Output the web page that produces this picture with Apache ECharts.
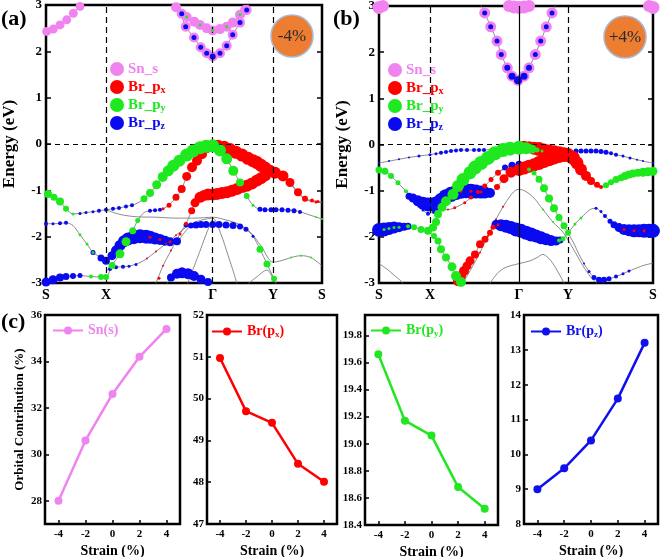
<!DOCTYPE html>
<html><head><meta charset="utf-8">
<script src="https://cdn.jsdelivr.net/npm/echarts@6/dist/echarts.min.js"></script>
<style>html,body{margin:0;padding:0;background:#fff}#c{width:660px;height:557px}</style>
</head><body><div id="c"></div>
<script>
// ---------- k-path (arb. units) and labels ----------
const kTicksA = [0, 60, 166.7, 227, 276];
const kTicksB = [0, 51, 140, 189, 274];
const kLabels = ['S', 'X', 'Γ', 'Y', 'S'];

// ---------- panel (a) bands, -4% : [k, E(eV)] ----------
const bandA1 = [[0,-1.08],[7,-1.15],[14,-1.24],[20,-1.40],[27,-1.51],[40,-1.48],[50,-1.45],[60,-1.42],[70,-1.39],[80,-1.35],[86,-1.32],[92,-1.27],[98,-1.18],[104,-1.06],[110.7,-0.88],[116.7,-0.71],[122.3,-0.58],[127.3,-0.47],[133.3,-0.36],[140.7,-0.24],[147,-0.15],[154,-0.08],[160,-0.05],[166.7,-0.04],[174,-0.05],[184,-0.12],[194,-0.22],[202,-0.31],[211,-0.40],[219,-0.52],[227,-0.60],[237,-0.69],[244,-0.83],[252,-1.04],[259,-1.18],[266,-1.22],[276,-1.25]];
const bandA2 = [[0,-1.72],[10,-1.72],[20,-1.70],[27,-1.76],[34,-1.96],[41,-2.16],[47,-2.34],[55,-2.45],[60,-2.52],[66,-2.41],[74,-2.19],[82,-2.05],[94,-1.99],[104,-2.01],[114,-2.06],[124,-2.11],[131,-2.10],[137,-1.95],[143,-1.80],[150,-1.75],[166.7,-1.74],[180,-1.75],[194,-1.78],[200,-1.84],[207,-1.99],[214,-2.27],[221,-2.59],[228,-2.91],[232,-3.10]];
const bandA3 = [[0,-2.98],[7,-2.93],[14,-2.88],[20,-2.86],[34,-2.84],[45,-2.86],[55,-2.87],[60,-2.87],[66,-2.62],[74,-2.37],[80,-2.11],[86.7,-1.87],[91.7,-1.65],[98,-1.48],[104,-1.44],[114,-1.42],[117,-1.40],[123,-1.32],[130,-1.15],[135.7,-0.97],[140.7,-0.70],[146,-0.50],[151,-0.36],[156,-0.22],[161,-0.10],[166.7,-0.04],[174,-0.14],[180.7,-0.32],[187.3,-0.58],[194,-0.83],[200.7,-1.12],[207,-1.32],[214,-1.41],[225,-1.42],[240,-1.42],[252,-1.45],[262,-1.52],[276,-1.62]];
const bandA4 = [[106,-3.2],[110,-3.0],[117,-2.63],[125,-2.30],[134,-1.94],[140,-1.72],[145.7,-1.44],[149,-1.27],[154,-1.15],[162,-1.09],[166.7,-1.09],[171,-1.08],[181,-1.04],[191,-0.97],[201,-0.90],[211,-0.79],[219,-0.68],[227,-0.62],[237,-0.71],[244,-0.85],[252,-1.06],[259,-1.20],[266,-1.24],[276,-1.27]];
const bandA5 = [[60,-2.74],[67,-2.66],[77,-2.65],[86,-2.62],[94,-2.56],[101,-2.47],[110,-2.32],[120,-2.15],[130,-1.97],[140,-1.80],[150,-1.68],[160,-1.62],[166.7,-1.60],[175,-1.95],[182,-2.40],[188,-2.80],[192,-3.10]];
const bandA6 = [[140,-3.1],[148,-2.65],[155,-2.25],[161,-1.90],[166.7,-1.62]];
const bandA7 = [[200,-3.05],[210,-2.88],[221,-2.72],[228,-2.95],[232,-3.10]];
const bandA8 = [[120,-3.05],[125,-2.88],[131,-2.80],[136,-2.78],[142,-2.80],[148,-2.85],[155,-2.92],[162,-2.98],[170,-3.05]];
const bandA9 = [[60,-1.42],[74,-1.52],[90,-1.57],[110,-1.58],[130,-1.60],[150,-1.60],[166.7,-1.58],[180,-1.64],[194,-1.74],[205,-1.92],[215,-2.20],[227,-2.55],[235,-2.52],[245,-2.45],[255,-2.41],[265,-2.45],[276,-2.63]];
const cbA1 = [[133,3.1],[135.7,2.81],[139.7,2.53],[148,2.30],[154.7,2.09],[160.7,1.96],[166.7,1.89],[174,1.96],[180.7,2.12],[186.7,2.36],[194,2.62],[200.7,2.89],[203,3.1]];
const cbA2 = [[127,3.1],[130,2.95],[140.7,2.74],[148.3,2.64],[154,2.57],[160.7,2.50],[166.7,2.45],[174,2.48],[180.7,2.53],[186.7,2.62],[194,2.79],[199,2.89],[202,3.1]];
const cbA3 = [[0,2.43],[7.3,2.48],[14,2.57],[20.7,2.68],[27.3,2.82],[34,2.97],[37,3.1]];

// ---------- panel (a) orbital weights : [k, E, marker size] ----------
const fatA_sn = [[135.7,2.81,10],[139.7,2.53,10],[148,2.30,10],[154.7,2.09,10],[160.7,1.96,10],[166.7,1.89,10],[174,1.96,10],[180.7,2.12,10],[186.7,2.36,10],[194,2.62,10],[200.7,2.89,10],
 [130,2.95,10],[140.7,2.74,10],[148.3,2.64,10],[154,2.57,10],[160.7,2.50,10],[166.7,2.45,10],[174,2.48,10],[180.7,2.53,10],[186.7,2.62,10],[194,2.79,10],[199,2.89,10],
 [0.7,2.43,9],[7.3,2.48,9],[14,2.57,9],[20.7,2.68,9],[27.3,2.82,9],[34,2.97,9]];
const fatA_px = [[172,-0.04,12],[178,-0.07,13],[184,-0.12,13],[190,-0.18,13],[196,-0.24,13],[202,-0.31,13],[207,-0.36,13],[211,-0.40,13],[215,-0.46,13],[219,-0.52,13],[224,-0.58,12],[229,-0.62,12],[237,-0.69,11],[244,-0.83,9],[252,-1.04,8],[259,-1.18,6],[266,-1.22,4],[272,-1.24,3],
 [154,-1.15,11],[158,-1.11,11],[162,-1.09,12],[166.7,-1.09,12],[171,-1.08,12],[176,-1.06,12],[181,-1.04,12],[186,-1.01,12],[191,-0.97,12],[196,-0.93,12],[201,-0.90,12],[206,-0.85,12],[211,-0.79,12],[215,-0.74,12],[219,-0.68,12],
 [149,-1.27,9],[145.7,-1.44,7],[140,-1.72,4],[134,-1.94,3],[125,-2.30,2],[117,-2.63,2],[113,-2.90,3],
 [161,-0.10,9],[156,-0.22,10],[151,-0.36,10],[146,-0.50,10],[140.7,-0.70,9],[135.7,-0.97,8],[130,-1.15,7],[123,-1.32,5],[117,-1.40,3],
 [101,-2.47,2],[110,-2.32,2],[120,-2.15,2],[130,-1.97,2],[104,-2.01,3],[114,-2.06,3],[124,-2.11,3],[270,-1.25,3]];
const fatA_py = [[2,-1.08,8],[8,-1.15,7],[14,-1.24,8],[20,-1.40,6],[27,-1.51,3],
 [34,-1.96,3],[41,-2.16,3],[47,-2.34,3],[45,-2.86,4],[55,-2.87,6],[60,-2.87,6],
 [66,-2.62,7],[74,-2.37,9],[80,-2.11,9],[86.7,-1.87,7],[91.7,-1.65,5],
 [98,-1.18,7],[104,-1.06,8],[110.7,-0.88,9],[116.7,-0.71,10],[122.3,-0.58,11],[127.3,-0.47,12],[133.3,-0.36,12],[140.7,-0.24,13],[147,-0.15,13],[154,-0.08,13],[160,-0.05,13],[166.7,-0.04,13],
 [174,-0.14,12],[180.7,-0.32,11],[187.3,-0.58,10],[194,-0.83,8],[200.7,-1.12,6],[207,-1.32,3],
 [214,-2.27,7],[221,-2.59,7],[228,-2.91,6],[245,-2.45,2],[255,-2.41,2],[265,-2.45,2],[270,-1.58,2],[276,-1.62,2],
 [140.7,2.74,3],[154,2.57,3],[166.7,2.45,3],[180.7,2.53,3],[194,2.79,3]];
const fatA_pz = [[0,-1.72,4],[7,-1.72,3],[14,-1.71,4],[20,-1.70,4],[47,-2.34,5],[55,-2.46,7],[60,-2.52,8],[66,-2.41,9],[70,-2.30,10],[74,-2.19,11],[78,-2.10,12],[82,-2.05,13],[88,-2.01,14],[94,-1.99,14],[100,-2.00,14],[104,-2.01,13],[109,-2.04,12],[114,-2.06,11],[119,-2.09,10],[124,-2.11,9],[131,-2.10,8],
 [140,-1.75,5],[145,-1.76,6],[150,-1.75,7],[155,-1.74,7],[160,-1.74,7],[166.7,-1.74,7],[173,-1.74,7],[180,-1.75,7],[187,-1.76,7],[194,-1.78,6],[200,-1.84,5],[207,-1.99,3],
 [34,-1.50,3],[40,-1.48,3],[47,-1.46,3],[53,-1.44,4],[60,-1.42,4],[67,-1.40,4],[73,-1.38,4],[80,-1.35,4],[86,-1.32,4],
 [214,-1.41,5],[219,-1.42,5],[225,-1.42,5],[230,-1.42,5],[236,-1.42,5],[242,-1.43,5],[248,-1.44,5],[254,-1.47,4],
 [104,-1.44,4],[109,-1.43,4],[114,-1.42,4],
 [0,-2.98,9],[7,-2.93,9],[14,-2.88,8],[20,-2.86,7],[27,-2.85,6],[34,-2.84,5],
 [125,-2.88,8],[131,-2.80,10],[136,-2.78,11],[142,-2.80,11],[148,-2.85,10],[155,-2.92,9],[162,-2.98,8],
 [64,-2.70,4],[70,-2.66,4],[77,-2.65,4],[83,-2.64,3],[90,-2.60,3],
 [135.7,2.81,5],[139.7,2.53,5],[148,2.30,5],[154.7,2.09,5],[160.7,1.96,5],[166.7,1.89,6],[174,1.96,5],[180.7,2.12,5],[186.7,2.36,5],[194,2.62,5],[200.7,2.89,5]];

// ---------- panel (b) bands, +4% ----------
const bandB1 = [[0,-0.40],[10,-0.36],[20,-0.32],[30,-0.28],[40,-0.25],[51,-0.22],[62,-0.18],[72,-0.14],[82,-0.12],[95,-0.12],[105,-0.12],[115,-0.10],[124,-0.08],[131,-0.06],[140,-0.04],[147,-0.05],[157,-0.09],[167,-0.14],[177,-0.18],[185,-0.21],[189,-0.23],[194,-0.29],[198,-0.40],[202,-0.54],[207,-0.68],[212,-0.79],[218,-0.87],[222,-0.92],[227,-0.88],[237,-0.76],[246,-0.68],[254,-0.63],[264,-0.60],[274,-0.58]];
const bandB2 = [[119,-0.61],[126,-0.52],[133,-0.46],[140,-0.45],[145,-0.48],[150,-0.54],[155,-0.62],[160,-0.75],[165,-0.95],[170,-1.17],[175,-1.38],[180,-1.58],[185,-1.76],[189,-1.91],[195,-2.15],[200,-2.38],[205,-2.58],[210,-2.75],[215,-2.88],[220,-2.93],[228,-2.92],[237,-2.86],[247,-2.77],[257,-2.68],[266,-2.61],[274,-2.57]];
const bandB3 = [[0,-0.55],[6,-0.58],[12,-0.68],[19,-0.83],[27,-1.01],[34,-1.15],[42,-1.24],[51,-1.30],[56,-1.30],[62,-1.20],[72,-1.08],[82,-1.01],[92,-1.01],[102,-1.03],[111,-1.05],[118,-0.92],[125,-0.74],[132,-0.60],[140,-0.55],[150,-0.47],[160,-0.40],[170,-0.32],[180,-0.25],[189,-0.22],[194,-0.30],[202,-0.56],[212,-0.81],[222,-0.93],[237,-0.77],[254,-0.64],[274,-0.59]];
const bandB4 = [[38,-1.22],[44,-1.42],[49,-1.50],[55,-1.46],[62,-1.41],[69,-1.41],[75.7,-1.37],[85.7,-1.26],[92,-1.15],[99,-1.03],[105.7,-0.90],[112,-0.76],[119,-0.61],[126,-0.50],[133,-0.45],[140,-0.43],[150,-0.39],[160,-0.33],[170,-0.27],[180,-0.21],[189,-0.17],[197,-0.14],[207,-0.14],[217,-0.14],[227,-0.17],[237,-0.22],[251,-0.29],[264,-0.36],[274,-0.40]];
const bandB5 = [[0,-1.85],[10,-1.82],[20,-1.79],[29,-1.77],[35,-1.79],[42,-1.84],[49,-1.87],[54,-1.80],[57,-1.68],[59,-1.51],[63,-1.36],[67,-1.23],[74,-1.08],[79,-0.90],[84,-0.76],[91,-0.61],[96,-0.50],[102,-0.40],[109,-0.29],[116,-0.19],[124,-0.12],[131,-0.09],[140,-0.07],[150,-0.10],[160,-0.14],[170,-0.16],[180,-0.17],[189,-0.17]];
const bandB6 = [[49,-1.88],[55,-1.98],[59,-2.09],[62,-2.27],[67,-2.45],[73,-2.65],[77,-2.85],[82,-2.98],[86,-3.10]];
const bandB7 = [[76,-3.1],[79,-2.96],[85,-2.74],[91,-2.52],[96,-2.38],[101,-2.16],[106,-2.05],[111,-1.91],[114,-1.79],[119,-1.74],[127,-1.77],[137,-1.84],[147,-1.91],[157,-1.98],[167,-2.05],[177,-2.09],[184,-2.04],[189,-1.92],[196,-1.72],[202,-1.59],[211,-1.41],[217,-1.38],[224,-1.51],[231,-1.66],[237,-1.77],[246,-1.84],[254,-1.87],[264,-1.87],[274,-1.87]];
const bandB8 = [[84,-3.0],[92,-2.70],[101,-2.34],[109,-1.98],[117,-1.62],[124,-1.35],[131,-1.12],[136,-1.00],[140,-0.97],[147,-1.02],[155,-1.16],[164,-1.41],[174,-1.68],[184,-1.90],[194,-2.25],[204,-2.63],[212,-2.88],[217,-2.99],[220,-3.1]];
const bandB9 = [[0,-2.58],[8,-2.70],[15,-2.83],[22,-2.96],[26,-3.10]];
const bandB10 = [[108,-3.1],[118,-2.80],[125,-2.68],[131,-2.63],[140,-2.58],[151,-2.52],[158,-2.45],[164,-2.38],[169,-2.45],[174,-2.58],[180,-2.80],[185,-3.0],[187,-3.1]];
const cbB1 = [[100,3.1],[105.7,2.85],[111.7,2.55],[118,2.24],[122.3,1.95],[128.3,1.66],[133,1.48],[139,1.39],[145,1.48],[150,1.66],[156.3,1.95],[161.7,2.24],[167.3,2.55],[173,2.85],[178,3.1]];
const cbB2 = [[115,3.1],[128,3.0],[140,2.97],[152,3.0],[165,3.1]];
const cbB3 = [[0,2.96],[8,3.1]];
const cbB4 = [[266,3.1],[274,2.96]];

// ---------- panel (b) orbital weights ----------
const fatB_sn = [[105.7,2.85,11],[111.7,2.55,11],[118,2.24,11],[122.3,1.95,11],[128.3,1.66,11],[133,1.48,11],[139,1.39,11],[145,1.48,11],[150,1.66,11],[156.3,1.95,11],[161.7,2.24,11],[167.3,2.55,11],[173,2.85,11],
 [0,2.97,13],[4,3.0,12],[130,3.0,12],[135,2.98,13],[140,2.97,13],[145,2.98,13],[150,3.0,12],[270,3.0,12],[274,2.97,13]];
const fatB_px = [[140,-0.03,9],[145,-0.04,11],[150,-0.06,12],[155,-0.08,13],[160,-0.10,14],[165,-0.13,14],[170,-0.15,14],[175,-0.17,14],[180,-0.19,14],[185,-0.21,14],[189,-0.23,14],[194,-0.29,14],[198,-0.40,13],[202,-0.54,12],[207,-0.68,10],[212,-0.79,8],[218,-0.87,6],[222,-0.92,4],
 [118,-0.92,6],[125,-0.74,9],[132,-0.60,11],[140,-0.55,12],[145,-0.51,13],[150,-0.47,13],[155,-0.44,13],[160,-0.40,14],[165,-0.36,14],[170,-0.32,14],[175,-0.28,14],[180,-0.25,14],[185,-0.23,14],
 [62,-1.41,2],[69,-1.41,2],[75.7,-1.37,3],[85.7,-1.26,3],[92,-1.15,4],[99,-1.03,4],[105.7,-0.90,5],[112,-0.76,5],[119,-0.61,6],
 [79,-2.96,10],[82,-2.85,10],[85,-2.74,10],[88,-2.63,9],[91,-2.52,9],[96,-2.38,8],[101,-2.16,8],[106,-2.05,7],[111,-1.91,6],[114,-1.79,5],[119,-1.74,3],
 [101,-2.34,2],[109,-1.98,2],[117,-1.62,2],[124,-1.35,2],
 [245,-1.84,3],[255,-1.87,3],[265,-1.87,3],[82,-1.01,3],[92,-1.01,3],[102,-1.03,3]];
const fatB_py = [[0,-0.55,7],[6,-0.58,7],[12,-0.68,6],[19,-0.83,5],[27,-1.01,4],
 [29,-1.77,4],[35,-1.79,6],[42,-1.84,7],[49,-1.87,8],[54,-1.80,8],[57,-1.68,8],[59,-1.51,8],[63,-1.36,9],[67,-1.23,10],[74,-1.08,11],[79,-0.90,12],[84,-0.76,13],[91,-0.61,13],[96,-0.50,14],[102,-0.40,14],[109,-0.29,14],[116,-0.19,14],[124,-0.12,14],[131,-0.09,14],[140,-0.07,14],[147,-0.08,12],[153,-0.10,9],[158,-0.12,5],[163,-0.14,3],
 [150,-0.54,4],[155,-0.62,5],[160,-0.75,7],[165,-0.95,8],[170,-1.17,8],[175,-1.38,8],[180,-1.58,7],[185,-1.76,7],[189,-1.91,6],
 [55,-1.98,6],[59,-2.09,7],[62,-2.27,8],[67,-2.45,8],[73,-2.65,9],[77,-2.85,10],[82,-2.98,10],
 [227,-0.88,6],[232,-0.82,6],[237,-0.76,7],[242,-0.72,7],[246,-0.68,8],[250,-0.65,8],[254,-0.63,8],[259,-0.61,8],[264,-0.60,9],[269,-0.59,9],[274,-0.58,9],
 [202,-1.59,3],[196,-1.72,3],[184,-2.04,5],[180,-2.08,4],[5,-1.84,3],[10,-1.82,3],[15,-1.80,3],[20,-1.79,3],[174,-1.68,2],[164,-1.41,2]];
const fatB_pz = [[0,-0.40,2],[10,-0.36,2],[20,-0.32,2],[30,-0.28,2],[40,-0.25,3],[51,-0.22,3],[57,-0.20,3],[62,-0.18,4],[67,-0.16,4],[72,-0.14,4],[77,-0.13,4],[82,-0.12,4],[88,-0.12,4],[95,-0.12,4],[100,-0.12,4],[105,-0.12,4],
 [126,-0.50,6],[133,-0.45,7],[140,-0.43,7],[146,-0.41,4],[152,-0.38,3],[189,-0.17,5],[197,-0.14,5],[202,-0.14,5],[207,-0.14,5],[212,-0.14,5],[217,-0.14,5],[222,-0.15,5],[227,-0.17,5],[232,-0.19,4],[237,-0.22,4],[244,-0.25,3],[251,-0.29,3],[258,-0.33,2],[264,-0.36,2],[274,-0.40,2],[44,-1.42,3],[49,-1.50,4],[55,-1.46,4],
 [30,-1.12,7],[34,-1.16,9],[39,-1.22,11],[44,-1.27,13],[49,-1.30,14],[53,-1.30,14],[57,-1.28,14],[62,-1.20,14],[67,-1.13,15],[72,-1.08,15],[77,-1.04,15],[82,-1.01,15],[87,-1.00,15],[92,-1.01,15],[97,-1.02,14],[102,-1.03,13],[106,-1.04,12],[111,-1.05,10],
 [0,-1.85,14],[5,-1.84,14],[10,-1.82,13],[15,-1.80,12],[20,-1.79,10],[25,-1.78,8],[29,-1.77,7],
 [117,-1.73,9],[122,-1.75,12],[127,-1.77,13],[132,-1.80,13],[137,-1.84,14],[142,-1.87,14],[147,-1.91,14],[152,-1.95,14],[157,-1.98,13],[162,-2.02,13],[167,-2.05,12],[172,-2.08,11],[177,-2.09,9],[181,-2.07,7],
 [217,-1.38,3],[222,-1.45,3],[226,-1.55,4],[231,-1.66,5],[235,-1.74,7],[240,-1.80,9],[245,-1.84,11],[250,-1.86,12],[255,-1.87,13],[260,-1.87,13],[265,-1.87,14],[270,-1.87,14],[274,-1.87,14],
 [205,-2.58,2],[210,-2.75,3],[215,-2.88,5],[220,-2.93,6],[225,-2.93,6],[230,-2.91,5],[237,-2.86,4],[244,-2.80,3],[250,-2.74,3],
 [105.7,2.85,5],[111.7,2.55,5],[118,2.24,5],[122.3,1.95,5],[128.3,1.66,6],[133,1.48,7],[139,1.39,8],[145,1.48,7],[150,1.66,6],[156.3,1.95,5],[161.7,2.24,5],[167.3,2.55,5],[173,2.85,5]];

// ---------- panel (c) orbital contributions ----------
const strain = [-4, -2, 0, 2, 4];
const snS  = [28.0, 30.6, 32.6, 34.2, 35.4];
const brPx = [50.97, 49.70, 49.42, 48.44, 48.01];
const brPy = [19.66, 19.17, 19.06, 18.68, 18.52];
const brPz = [9.0, 9.6, 10.4, 11.6, 13.2];
const strainTicks = [-4, -2, 0, 2, 4];
const snTicks = [28, 30, 32, 34, 36];
const pxTicks = [47, 48, 49, 50, 51, 52];
const pyTicks = [18.4, 18.6, 18.8, 19.0, 19.2, 19.4, 19.6, 19.8];
const pzTicks = [8, 9, 10, 11, 12, 13, 14];

// ---------- style ----------
const FONT = 'Liberation Serif';
const C_SN = '#F083F0', C_PX = '#FF0000', C_PY = '#1EE81E', C_PZ = '#0A0AF0';
const BAND_COLOR = '#6e6e6e';

function nearestLabel(ticks) {
  return function (v) {
    let b = 0;
    for (let i = 0; i < ticks.length; i++) if (Math.abs(ticks[i] - v) < Math.abs(ticks[b] - v)) b = i;
    return kLabels[b];
  };
}
const gridBase = {show: true, borderColor: '#000', borderWidth: 2.5, backgroundColor: 'transparent', containLabel: false, outerBoundsMode: 'none'};
const grids = [
  Object.assign({left: 46, top: 5, width: 276, height: 278}, gridBase),
  Object.assign({left: 379, top: 6, width: 274, height: 277}, gridBase),
  Object.assign({left: 45, top: 315, width: 135, height: 209}, gridBase),
  Object.assign({left: 207, top: 315, width: 130, height: 209}, gridBase),
  Object.assign({left: 365, top: 315, width: 133, height: 210}, gridBase),
  Object.assign({left: 524, top: 315, width: 134, height: 209}, gridBase)
];
const lblTop = {color: '#000', fontFamily: FONT, fontWeight: 'bold', fontSize: 13};
const lblBot = {color: '#000', fontFamily: FONT, fontWeight: 'bold', fontSize: 11};
const noLine = {show: false, onZero: false};

function kAxis(gi, ticks) {
  return {gridIndex: gi, type: 'value', min: 0, max: ticks[4], position: 'bottom',
    axisLine: noLine, axisTick: {show: false}, splitLine: {show: false},
    axisLabel: {customValues: ticks, formatter: nearestLabel(ticks), margin: 5, fontSize: 14, color: '#000', fontFamily: FONT, fontWeight: 'bold'}};
}
function eAxis(gi, gap) {
  return {gridIndex: gi, type: 'value', min: -3, max: 3, interval: 1, position: 'left',
    name: 'Energy (eV)', nameLocation: 'middle', nameGap: gap,
    nameTextStyle: {fontFamily: FONT, fontWeight: 'bold', fontSize: 17, color: '#000'},
    axisLine: noLine, splitLine: {show: false},
    axisTick: {show: true, inside: true, length: 5, lineStyle: {color: '#000', width: 1.5}},
    axisLabel: Object.assign({margin: 4}, lblTop)};
}
function eAxisRight(gi) {
  return {gridIndex: gi, type: 'value', position: 'right', min: -3, max: 3, interval: 1,
    axisLine: noLine, splitLine: {show: false}, axisLabel: {show: false},
    axisTick: {show: true, inside: true, length: 5, lineStyle: {color: '#000', width: 1.5}}};
}
function strainAxis(gi) {
  return {gridIndex: gi, type: 'value', min: -5, max: 5, position: 'bottom',
    name: 'Strain (%)', nameLocation: 'middle', nameGap: 20,
    nameTextStyle: {fontFamily: FONT, fontWeight: 'bold', fontSize: 14, color: '#000'},
    axisLine: noLine, splitLine: {show: false},
    axisTick: {show: true, inside: true, length: 4, customValues: strainTicks, lineStyle: {color: '#000', width: 1.5}},
    axisLabel: Object.assign({customValues: strainTicks, margin: 5}, lblBot)};
}
function valAxis(gi, min, max, ticks, dec, name) {
  const ax = {gridIndex: gi, type: 'value', min: min, max: max, position: 'left',
    axisLine: noLine, splitLine: {show: false},
    axisTick: {show: true, inside: true, length: 4, customValues: ticks, lineStyle: {color: '#000', width: 1.5}},
    axisLabel: Object.assign({customValues: ticks, margin: 3, formatter: v => v.toFixed(dec)}, lblBot)};
  if (name) {
    ax.name = name; ax.nameLocation = 'middle'; ax.nameGap = 19;
    ax.nameTextStyle = {fontFamily: FONT, fontWeight: 'bold', fontSize: 13, color: '#000'};
  }
  return ax;
}

function bandLine(data, gi) {
  return {type: 'line', xAxisIndex: gi, yAxisIndex: gi, data: data, symbol: 'none', showSymbol: false,
    smooth: 0.3, lineStyle: {color: BAND_COLOR, width: 0.8}, silent: true, z: 1, animation: false};
}
function refLines(ticks, gammaSolid) {
  const dash = {type: [6, 4], color: '#000', width: 1.2};
  return {silent: true, symbol: ['none', 'none'], label: {show: false}, animation: false,
    lineStyle: dash,
    data: [
      {xAxis: ticks[1]},
      {xAxis: ticks[2], lineStyle: gammaSolid ? {type: 'solid', color: '#000', width: 1.2} : dash},
      {xAxis: ticks[3]},
      {yAxis: 0, lineStyle: {type: [5, 4], color: '#000', width: 1.2}}
    ]};
}
function fat(name, data, gi, color, z) {
  return {type: 'scatter', name: name, xAxisIndex: gi, yAxisIndex: gi, data: data,
    symbol: 'circle', symbolSize: v => v[2], itemStyle: {color: color, opacity: 1}, silent: true, z: z, animation: false};
}

const series = [];
const bandsA = [bandA1, bandA2, bandA3, bandA4, bandA5, bandA6, bandA7, bandA8, bandA9, cbA1, cbA2, cbA3];
const bandsB = [bandB1, bandB2, bandB3, bandB4, bandB5, bandB6, bandB7, bandB8, bandB9, bandB10, cbB1, cbB2, cbB3, cbB4];
bandsA.forEach((b, i) => { const s = bandLine(b, 0); if (i === 0) s.markLine = refLines(kTicksA, false); series.push(s); });
bandsB.forEach((b, i) => { const s = bandLine(b, 1); if (i === 0) s.markLine = refLines(kTicksB, true); series.push(s); });
series.push(fat('Sn_s', fatA_sn, 0, C_SN, 2), fat('Br_pz', fatA_pz, 0, C_PZ, 3), fat('Br_px', fatA_px, 0, C_PX, 4), fat('Br_py', fatA_py, 0, C_PY, 5));
series.push(fat('Sn_s', fatB_sn, 1, C_SN, 2), fat('Br_pz', fatB_pz, 1, C_PZ, 3), fat('Br_px', fatB_px, 1, C_PX, 4), fat('Br_py', fatB_py, 1, C_PY, 5));

function contrib(name, vals, gi, color) {
  return {type: 'line', name: name, xAxisIndex: gi, yAxisIndex: gi,
    data: strain.map((s, i) => [s, vals[i]]), symbol: 'circle', symbolSize: 8,
    lineStyle: {color: color, width: 2.5}, itemStyle: {color: color}, silent: true, z: 3, animation: false};
}
series.push(contrib('Sn(s)', snS, 2, C_SN), contrib('Br(px)', brPx, 3, C_PX), contrib('Br(py)', brPy, 4, '#22E622'), contrib('Br(pz)', brPz, 5, '#1010EE'));

const fmtTop = {Sn_s: 'Sn_s', Br_px: 'Br_p{sub|x}', Br_py: 'Br_p{sub|y}', Br_pz: 'Br_p{sub|z}'};
const fmtBot = {'Sn(s)': 'Sn(s)', 'Br(px)': 'Br(p{sub|x})', 'Br(py)': 'Br(p{sub|y})', 'Br(pz)': 'Br(p{sub|z})'};
function topLegend(left, top) {
  return {orient: 'vertical', left: left, top: top, itemGap: 2, icon: 'circle', itemWidth: 14, itemHeight: 14,
    selectedMode: false, padding: 0,
    data: [{name: 'Sn_s', textStyle: {color: C_SN}}, {name: 'Br_px', textStyle: {color: C_PX}},
           {name: 'Br_py', textStyle: {color: C_PY}}, {name: 'Br_pz', textStyle: {color: C_PZ}}],
    formatter: n => fmtTop[n],
    textStyle: {fontFamily: FONT, fontWeight: 'bold', fontSize: 15, lineHeight: 16, padding: [0, 0, 0, -1],
      rich: {sub: {fontFamily: FONT, fontWeight: 'bold', fontSize: 10, lineHeight: 10, verticalAlign: 'bottom'}}}};
}
function botLegend(left, top, name, color) {
  return {orient: 'horizontal', left: left, top: top, itemWidth: 30, itemHeight: 10, selectedMode: false, padding: 0,
    data: [{name: name, textStyle: {color: color}}], formatter: n => fmtBot[n],
    textStyle: {fontFamily: FONT, fontWeight: 'bold', fontSize: 14, lineHeight: 15,
      rich: {sub: {fontFamily: FONT, fontWeight: 'bold', fontSize: 9, lineHeight: 9, verticalAlign: 'bottom'}}}};
}

const option = {
  animation: false,
  backgroundColor: '#fff',
  textStyle: {fontFamily: FONT},
  grid: grids,
  xAxis: [kAxis(0, kTicksA), kAxis(1, kTicksB), strainAxis(2), strainAxis(3), strainAxis(4), strainAxis(5)],
  yAxis: [eAxis(0, 28), eAxis(1, 28),
    valAxis(2, 27, 36, snTicks, 0, 'Orbital Contribution (%)'),
    valAxis(3, 47, 52, pxTicks, 0), valAxis(4, 18.4, 19.95, pyTicks, 1), valAxis(5, 8, 14, pzTicks, 0),
    eAxisRight(0), eAxisRight(1)],
  legend: [topLegend(110, 61), topLegend(388, 62),
    botLegend(52, 323, 'Sn(s)', C_SN), botLegend(211, 324, 'Br(px)', C_PX),
    botLegend(370, 323, 'Br(py)', '#22E622'), botLegend(530, 324, 'Br(pz)', '#1010EE')],
  graphic: [
    {type: 'circle', z: 100, shape: {cx: 292, cy: 36, r: 21}, style: {fill: '#ED7D31', stroke: '#A9B8D2', lineWidth: 1.5}},
    {type: 'text', z: 101, x: 292, y: 37, style: {text: '-4%', font: '17px "Liberation Serif"', fill: '#2a2a2a', align: 'center', verticalAlign: 'middle'}},
    {type: 'circle', z: 100, shape: {cx: 625, cy: 37, r: 21}, style: {fill: '#ED7D31', stroke: '#A9B8D2', lineWidth: 1.5}},
    {type: 'text', z: 101, x: 625, y: 38, style: {text: '+4%', font: '17px "Liberation Serif"', fill: '#2a2a2a', align: 'center', verticalAlign: 'middle'}},
    {type: 'text', z: 101, x: 1, y: 8, style: {text: '(a)', font: 'bold 22px "Liberation Serif"', fill: '#000'}},
    {type: 'text', z: 101, x: 333, y: 8, style: {text: '(b)', font: 'bold 22px "Liberation Serif"', fill: '#000'}},
    {type: 'text', z: 101, x: 1, y: 311, style: {text: '(c)', font: 'bold 22px "Liberation Serif"', fill: '#000'}}
  ],
  series: series
};
const chart = echarts.init(document.getElementById('c'), null, {renderer: 'canvas'});
chart.setOption(option);
</script></body></html>
